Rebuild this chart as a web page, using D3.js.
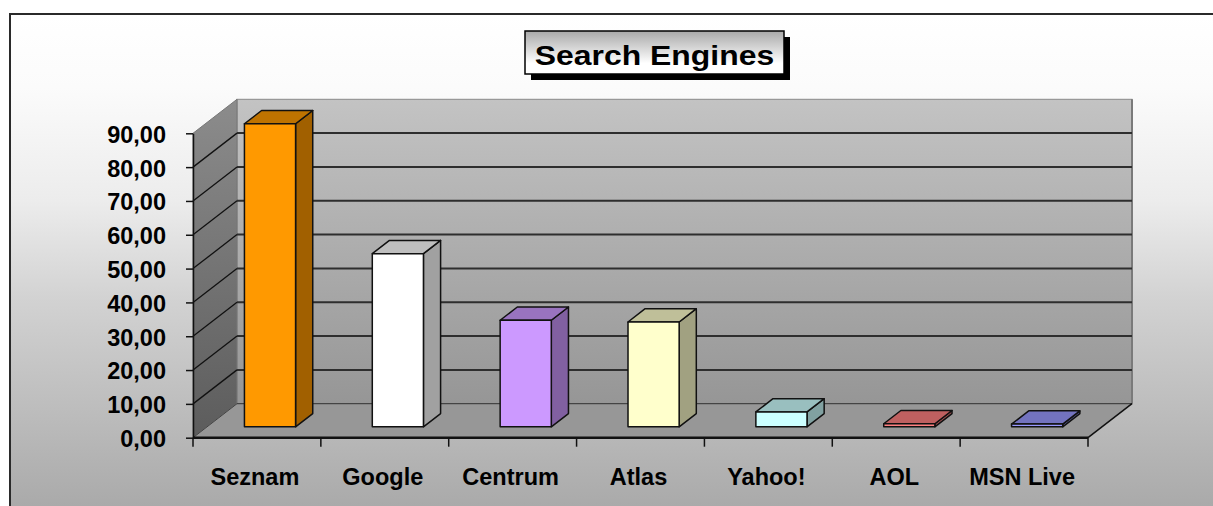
<!DOCTYPE html>
<html>
<head>
<meta charset="utf-8">
<script src="https://cdn.jsdelivr.net/npm/d3@7"></script>
<style>
  html, body { margin: 0; padding: 0; background: #fff; }
  svg { display: block; }
  text { font-family: "Liberation Sans", Arial, sans-serif; font-weight: bold; fill: #000; }
</style>
</head>
<body>
<svg id="chart" width="1213" height="506"></svg>
<script>
// ---- data ----
const categories = ["Seznam", "Google", "Centrum", "Atlas", "Yahoo!", "AOL", "MSN Live"];
const values = [89.6, 51.2, 31.5, 31.0, 4.4, 0.9, 0.8];
const barColors = ["#FF9900", "#FFFFFF", "#CC99FF", "#FFFFCC", "#CCFFFF", "#FF8080", "#9999FF"];
const yTicks = [0, 10, 20, 30, 40, 50, 60, 70, 80, 90];
const chartTitle = "Search Engines";

// ---- layout ----
const W = 1213, H = 506;
const svg = d3.select("#chart");
const DX = 44, DY = 34;          // depth offset of the 3D floor
const z0 = 0.32, z1 = 0.71;      // bar depth span (fraction of floor depth)

const y = d3.scaleLinear().domain([0, 90]).range([437.7, 133.3]);
const xEdge = d3.scaleBand().domain(categories).range([193, 1088]).padding(0);
const xBar = d3.scaleBand().domain(categories).range([192, 1087]).paddingInner(0.6).paddingOuter(0.3);

const defs = svg.append("defs");
function vgrad(id, stops) {
  const g = defs.append("linearGradient").attr("id", id).attr("x1", 0).attr("y1", 0).attr("x2", 0).attr("y2", 1);
  stops.forEach(s => g.append("stop").attr("offset", s[0]).attr("stop-color", s[1]));
}
vgrad("bg", [[0, "#ffffff"], [0.15, "#fbfbfb"], [0.38, "#ececec"], [0.58, "#d2d2d2"], [1, "#aaaaaa"]]);
vgrad("back", [[0, "#c3c3c3"], [1, "#969696"]]);
vgrad("side", [[0, "#8c8c8c"], [1, "#5c5c5c"]]);
vgrad("titlebg", [[0, "#a8a8a8"], [0.75, "#ffffff"], [1, "#ffffff"]]);

// background & frame
svg.append("rect").attr("x", 10).attr("y", 14).attr("width", W - 10).attr("height", H - 14).attr("fill", "url(#bg)");
svg.append("path").attr("d", `M10,${H} L10,14 L${W},14`).attr("fill", "none").attr("stroke", "#2a2a2a").attr("stroke-width", 2);

const x0 = 193, x1 = 1088, yb = y(0), yt = y(90);

// back wall
svg.append("rect").attr("x", x0 + DX).attr("y", yt - DY).attr("width", x1 - x0).attr("height", yb - yt)
  .attr("fill", "url(#back)").attr("stroke", "#8a8a8a").attr("stroke-width", 1);
svg.append("line").attr("x1", x1 + DX).attr("x2", x1 + DX).attr("y1", yt - DY).attr("y2", yb - DY)
  .attr("stroke", "#7a7a7a").attr("stroke-width", 2);
// side wall
svg.append("polygon")
  .attr("points", [[x0, yb], [x0, yt], [x0 + DX, yt - DY], [x0 + DX, yb - DY]].map(p => p.join(",")).join(" "))
  .attr("fill", "url(#side)").attr("stroke", "#777").attr("stroke-width", 1);
// floor
svg.append("polygon")
  .attr("points", [[x0, yb], [x1, yb], [x1 + DX, yb - DY], [x0 + DX, yb - DY]].map(p => p.join(",")).join(" "))
  .attr("fill", "#979797");

// gridlines on back wall and side wall
yTicks.forEach(v => {
  if (v > 0 && v < 90) {
    svg.append("line").attr("x1", x0 + DX).attr("x2", x1 + DX).attr("y1", y(v) - DY).attr("y2", y(v) - DY)
      .attr("stroke", "#2e2e2e").attr("stroke-width", 2);
    svg.append("line").attr("x1", x0).attr("y1", y(v)).attr("x2", x0 + DX).attr("y2", y(v) - DY)
      .attr("stroke", "#111").attr("stroke-width", 1.3);
  }
  if (v === 0) {
    svg.append("line").attr("x1", x0 + DX).attr("x2", x1 + DX).attr("y1", y(v) - DY).attr("y2", y(v) - DY)
      .attr("stroke", "#333").attr("stroke-width", 1);
  }
});
svg.append("line").attr("x1", x0).attr("y1", yb).attr("x2", x0 + DX).attr("y2", yb - DY)
  .attr("stroke", "#444").attr("stroke-width", 1);
svg.append("line").attr("x1", x1).attr("y1", yb).attr("x2", x1 + DX).attr("y2", yb - DY)
  .attr("stroke", "#111").attr("stroke-width", 1.5);

// bars
const ddx = (z1 - z0) * DX, ddy = (z1 - z0) * DY;
const shade = (c, k) => { const r = d3.rgb(c); return d3.rgb(r.r * k, r.g * k, r.b * k).formatHex(); };
const bars = svg.append("g");
categories.forEach((c, i) => {
  const v = values[i];
  const bx = xBar(c) + z0 * DX, bw = xBar.bandwidth();
  const top = y(v) - z0 * DY, bot = y(0) - z0 * DY;
  const g = bars.append("g").attr("stroke", "#111").attr("stroke-width", 1.5).attr("stroke-linejoin", "round");
  g.append("polygon")
    .attr("points", [[bx + bw, top], [bx + bw + ddx, top - ddy], [bx + bw + ddx, bot - ddy], [bx + bw, bot]].map(p => p.join(",")).join(" "))
    .attr("fill", shade(barColors[i], 0.63));
  g.append("polygon")
    .attr("points", [[bx, top], [bx + bw, top], [bx + bw + ddx, top - ddy], [bx + ddx, top - ddy]].map(p => p.join(",")).join(" "))
    .attr("fill", shade(barColors[i], 0.75));
  g.append("rect").attr("x", bx).attr("y", top).attr("width", bw).attr("height", Math.max(0.5, bot - top))
    .attr("fill", barColors[i]);
});

// y axis
const fmt = d3.formatLocale({ decimal: ",", thousands: ".", grouping: [3], currency: ["", ""] }).format(".2f");
const yAxis = svg.append("g").attr("transform", `translate(${x0},0)`)
  .call(d3.axisLeft(y).tickValues(yTicks).tickFormat(fmt).tickSize(7).tickSizeOuter(0).tickPadding(20));
yAxis.select(".domain").attr("stroke", "#111").attr("stroke-width", 1.5);
yAxis.selectAll(".tick line").attr("stroke", "#111").attr("stroke-width", 1.5);
yAxis.selectAll(".tick text").attr("font-size", 23.5).attr("font-family", "Liberation Sans, Arial, sans-serif")
  .attr("font-weight", "bold").attr("fill", "#000").attr("dy", "0.38em");

// x axis
svg.append("line").attr("x1", x0).attr("x2", x1).attr("y1", yb).attr("y2", yb).attr("stroke", "#111").attr("stroke-width", 2.5);
const edges = categories.map(c => xEdge(c)).concat([x1]);
svg.append("g").selectAll("line").data(edges).join("line")
  .attr("x1", d => d).attr("x2", d => d).attr("y1", yb).attr("y2", yb + 9)
  .attr("stroke", "#111").attr("stroke-width", 1.5);
const xAxis = svg.append("g").attr("transform", `translate(-2,${yb})`)
  .call(d3.axisBottom(xEdge).tickSize(0).tickPadding(31));
xAxis.select(".domain").remove();
xAxis.selectAll(".tick text").attr("font-size", 23.5).attr("font-family", "Liberation Sans, Arial, sans-serif")
  .attr("font-weight", "bold").attr("fill", "#000");

// title box
const tb = { x: 525, y: 31, w: 259, h: 43 };
svg.append("rect").attr("x", tb.x + 6).attr("y", tb.y + 6).attr("width", tb.w).attr("height", tb.h).attr("fill", "#000");
svg.append("rect").attr("x", tb.x).attr("y", tb.y).attr("width", tb.w).attr("height", tb.h)
  .attr("fill", "url(#titlebg)").attr("stroke", "#000").attr("stroke-width", 1.5);
svg.append("text").attr("transform", `translate(${tb.x + tb.w / 2},${65}) scale(1.12,1)`)
  .attr("text-anchor", "middle").attr("font-size", 28.5).text(chartTitle);
</script>
</body>
</html>
